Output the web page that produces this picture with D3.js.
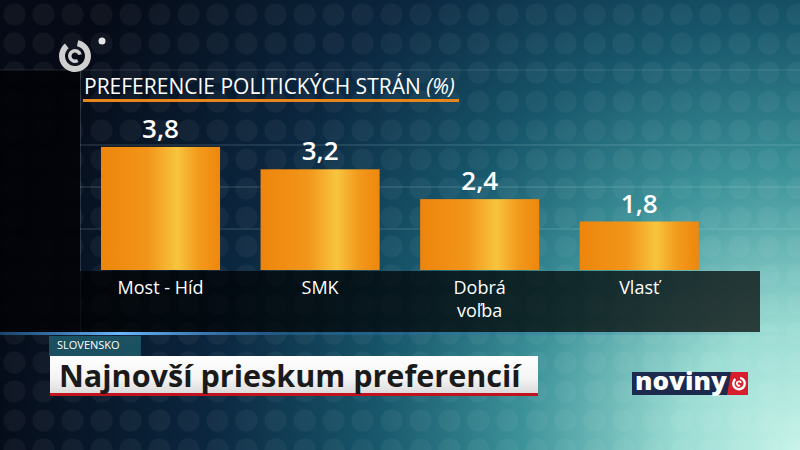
<!DOCTYPE html>
<html><head><meta charset="utf-8">
<script src="https://cdn.jsdelivr.net/npm/d3@7"></script>
<style>html,body{margin:0;padding:0;background:#000;overflow:hidden}</style>
</head><body><svg id="c" width="800" height="450"></svg>
<script>
// ---- data ----
const categories = ["Most - Híd", "SMK", "Dobrá voľba", "Vlasť"];
const categoryLines = [["Most - Híd"], ["SMK"], ["Dobrá", "voľba"], ["Vlasť"]];
const values = [3.8, 3.2, 2.4, 1.8];
const valueLabels = ["3,8", "3,2", "2,4", "1,8"];
const titleMain = "PREFERENCIE POLITICKÝCH STRÁN ";
const titleUnit = "(%)";
const kicker = "SLOVENSKO";
const headline = "Najnovší prieskum preferencií";
const brand = "noviny";

const W = 800, H = 450;
const svg = d3.select("#c");
const defs = svg.append("defs");
const FONT = "'Open Sans', 'Noto Sans', sans-serif";

// background gradient
const bg = defs.append("radialGradient").attr("id", "bg")
  .attr("gradientUnits", "userSpaceOnUse").attr("cx", 800).attr("cy", 450).attr("r", 820);
[[0, "#c6f3e9"], [0.15, "#9adcd3"], [0.34, "#3c9299"], [0.52, "#17566b"], [0.72, "#0b2740"], [1, "#050a16"]]
  .forEach(s => bg.append("stop").attr("offset", s[0]).attr("stop-color", s[1]));
svg.append("rect").attr("width", W).attr("height", H).attr("fill", "url(#bg)");

// dotted circle pattern
const pat = defs.append("pattern").attr("id", "dots").attr("patternUnits", "userSpaceOnUse")
  .attr("width", 29).attr("height", 29);
pat.append("circle").attr("cx", 14.5).attr("cy", 14.5).attr("r", 11).attr("fill", "#ffffff").attr("fill-opacity", 0.045);
svg.append("rect").attr("width", W).attr("height", H).attr("fill", "url(#dots)");

// left dark column
svg.append("rect").attr("x", 0).attr("y", 70).attr("width", 80).attr("height", 265).attr("fill", "#020308").attr("opacity", 0.92);
svg.append("line").attr("x1", 0).attr("x2", W).attr("y1", 70).attr("y2", 70).attr("stroke", "#ffffff").attr("stroke-opacity", 0.12);
svg.append("line").attr("x1", 80.5).attr("x2", 80.5).attr("y1", 70).attr("y2", 335).attr("stroke", "#ffffff").attr("stroke-opacity", 0.15);

// logo
const logo = svg.append("g").attr("transform", "translate(75,56)");
logo.append("path").attr("d", d3.arc()({innerRadius: 10, outerRadius: 16, startAngle: 0.2, endAngle: 5.6})).attr("fill", "#cfcfcf");
logo.append("path").attr("d", d3.arc()({innerRadius: 3.5, outerRadius: 7, startAngle: 2.6, endAngle: 7.6})).attr("fill", "#cfcfcf");
svg.append("circle").attr("cx", 102).attr("cy", 41).attr("r", 3.5).attr("fill", "#e6e6e6");

// title
const title = svg.append("text").attr("x", 84).attr("y", 94).attr("fill", "#ffffff")
  .attr("font-family", FONT).attr("font-size", 22);
title.append("tspan").text(titleMain);
title.append("tspan").attr("font-style", "italic").text(titleUnit);
(function () {
  const w = title.node().getComputedTextLength();
  title.attr("transform", `translate(84,0) scale(${371 / w},1) translate(-84,0)`);
})();
svg.append("rect").attr("x", 83).attr("y", 99).attr("width", 376).attr("height", 3).attr("fill", "#e8861c");

// scales
const x = d3.scaleBand().domain(categories).range([101, 698.8]).paddingInner(0.254).paddingOuter(0);
const y = d3.scaleLinear().domain([0.5, 4.0]).range([270, 139.45]);

// faint gridlines (background design)
[145, 187, 229].forEach(gy => {
  svg.append("line").attr("x1", 80).attr("x2", W).attr("y1", gy).attr("y2", gy)
    .attr("stroke", "#d8eef0").attr("stroke-opacity", 0.22).attr("stroke-width", 1.2);
});

// bar gradient
const bgr = defs.append("linearGradient").attr("id", "bar").attr("x1", 0).attr("x2", 1).attr("y1", 0).attr("y2", 0);
[[0, "#ee850c"], [0.4, "#f1961a"], [0.64, "#f8c43e"], [0.82, "#f29a1c"], [1, "#ee870e"]]
  .forEach(s => bgr.append("stop").attr("offset", s[0]).attr("stop-color", s[1]));

const data = categories.map((c, i) => ({c, v: values[i], lab: valueLabels[i], lines: categoryLines[i]}));

svg.append("g").selectAll("rect").data(data).join("rect")
  .attr("x", d => x(d.c)).attr("width", x.bandwidth())
  .attr("y", d => y(d.v)).attr("height", d => y(0.5) - y(d.v))
  .attr("fill", "url(#bar)");

svg.append("g").selectAll("text").data(data).join("text")
  .attr("x", d => x(d.c) + x.bandwidth() / 2).attr("y", d => y(d.v) - 9)
  .attr("text-anchor", "middle").attr("fill", "#ffffff")
  .attr("font-family", FONT).attr("font-weight", 600).attr("font-size", 26)
  .text(d => d.lab);

// label band
svg.append("rect").attr("x", 80).attr("y", 271).attr("width", 680).attr("height", 61).attr("fill", "#000000").attr("opacity", 0.72);
const glow = defs.append("linearGradient").attr("id", "glow");
[[0, "#2a6fb0", 0.6], [0.15, "#6ab8ff", 1], [0.35, "#2a6fb0", 0.5], [1, "#2a6fb0", 0]]
  .forEach(s => glow.append("stop").attr("offset", s[0]).attr("stop-color", s[1]).attr("stop-opacity", s[2]));
svg.append("rect").attr("x", 0).attr("y", 332).attr("width", 800).attr("height", 3).attr("fill", "url(#glow)");

// category labels
const cl = svg.append("g").selectAll("text").data(data).join("text")
  .attr("x", d => x(d.c) + x.bandwidth() / 2).attr("y", 294)
  .attr("text-anchor", "middle").attr("fill", "#ffffff")
  .attr("font-family", FONT).attr("font-size", 18);
cl.selectAll("tspan").data(d => d.lines.map((l, i) => ({l, i, x: x(d.c) + x.bandwidth() / 2}))).join("tspan")
  .attr("x", t => t.x).attr("dy", t => t.i === 0 ? 0 : 23).text(t => t.l);

// lower third
svg.append("rect").attr("x", 49).attr("y", 336).attr("width", 92).attr("height", 20).attr("fill", "#1d5a6a").attr("opacity", 0.85);
svg.append("text").attr("x", 57).attr("y", 349).attr("fill", "#ffffff").attr("font-family", FONT)
  .attr("font-size", 11).text(kicker);

const ban = defs.append("linearGradient").attr("id", "ban").attr("x1", 0).attr("x2", 0).attr("y1", 0).attr("y2", 1);
[[0, "#ffffff"], [0.6, "#f4f4f4"], [1, "#dcdcdc"]].forEach(s => ban.append("stop").attr("offset", s[0]).attr("stop-color", s[1]));
svg.append("rect").attr("x", 50).attr("y", 356).attr("width", 488).attr("height", 37).attr("fill", "url(#ban)");
svg.append("rect").attr("x", 50).attr("y", 393).attr("width", 488).attr("height", 3).attr("fill", "#c1121f");
const hl = svg.append("text").attr("x", 59).attr("y", 387).attr("fill", "#1a1a1a")
  .attr("font-family", FONT).attr("font-weight", 700).attr("font-size", 31).text(headline);
(function () {
  const w = hl.node().getComputedTextLength();
  hl.attr("transform", `translate(59,0) scale(${462 / w},1) translate(-59,0)`);
})();

// brand logo
svg.append("rect").attr("x", 632).attr("y", 372).attr("width", 116).attr("height", 23).attr("fill", "#1c2a4e");
svg.append("path").attr("d", "M731,372 L748,372 L748,395 L727,395 Z").attr("fill", "#d81e2c");
const bt = svg.append("text").attr("x", 635).attr("y", 390).attr("fill", "#ffffff")
  .attr("font-family", FONT).attr("font-weight", 800).attr("font-size", 24).text(brand);
(function () {
  const w = bt.node().getComputedTextLength();
  bt.attr("transform", `translate(635,0) scale(${92 / w},1) translate(-635,0)`);
})();
const bl = svg.append("g").attr("transform", "translate(739,383.5)");
bl.append("path").attr("d", d3.arc()({innerRadius: 4.5, outerRadius: 7, startAngle: 0.2, endAngle: 5.6})).attr("fill", "#ffffff");
bl.append("path").attr("d", d3.arc()({innerRadius: 1.2, outerRadius: 3, startAngle: 2.6, endAngle: 7.6})).attr("fill", "#ffffff");
</script>
</body></html>
